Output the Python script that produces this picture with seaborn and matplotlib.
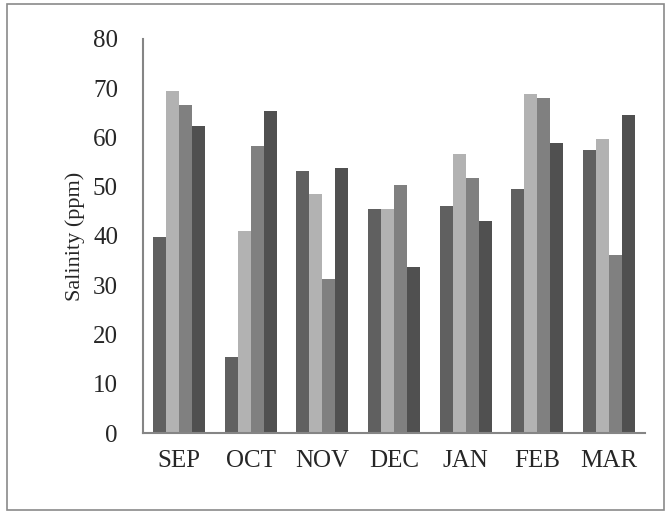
import pandas as pd
import matplotlib.pyplot as plt
import seaborn as sns
from matplotlib.patches import Rectangle

# Data
months = ['SEP', 'OCT', 'NOV', 'DEC', 'JAN', 'FEB', 'MAR']
series_1 = [39.7, 15.5, 53.1, 45.4, 46.0, 49.6, 57.4]
series_2 = [69.4, 41.0, 48.6, 45.4, 56.7, 68.8, 59.6]
series_3 = [66.7, 58.2, 31.2, 50.3, 51.7, 68.1, 36.1]
series_4 = [62.4, 65.3, 53.9, 33.7, 43.1, 58.8, 64.5]
series_names = ['Series 1', 'Series 2', 'Series 3', 'Series 4']
colors = ['#606060', '#b2b2b2', '#808080', '#505050']

rows = []
for name, vals in zip(series_names, [series_1, series_2, series_3, series_4]):
    for m, v in zip(months, vals):
        rows.append({'Month': m, 'Series': name, 'Salinity': v})
data = pd.DataFrame(rows)

sns.set_style('white')
plt.rcParams['font.family'] = ['Liberation Serif', 'DejaVu Serif']

fig = plt.figure(figsize=(6.69, 5.14), dpi=100)
ax = fig.add_axes([143 / 669, 81 / 514, 502 / 669, 394 / 514])

sns.barplot(data=data, x='Month', y='Salinity', hue='Series', order=months,
            hue_order=series_names, palette=colors, width=0.725, gap=0,
            legend=False, ax=ax, saturation=1, edgecolor='none')

ax.set_ylim(0, 80)
ax.set_yticks(range(0, 81, 10))
ax.set_xlabel('')
ax.set_ylabel('Salinity (ppm)', fontsize=16, labelpad=6)
ax.tick_params(axis='both', length=0, labelsize=18)
ax.tick_params(axis='y', pad=18)
ax.tick_params(axis='x', pad=12)
for side in ['top', 'right']:
    ax.spines[side].set_visible(False)
for side in ['left', 'bottom']:
    ax.spines[side].set_color('#858585')
    ax.spines[side].set_linewidth(1.5)

# grey frame round the whole chart
fig.patches.append(Rectangle((7 / 669, 4 / 514), 657 / 669, 506 / 514,
                             transform=fig.transFigure, fill=False,
                             edgecolor='#8a8a8a', linewidth=1.2))

fig.savefig('out.png', dpi=100)
